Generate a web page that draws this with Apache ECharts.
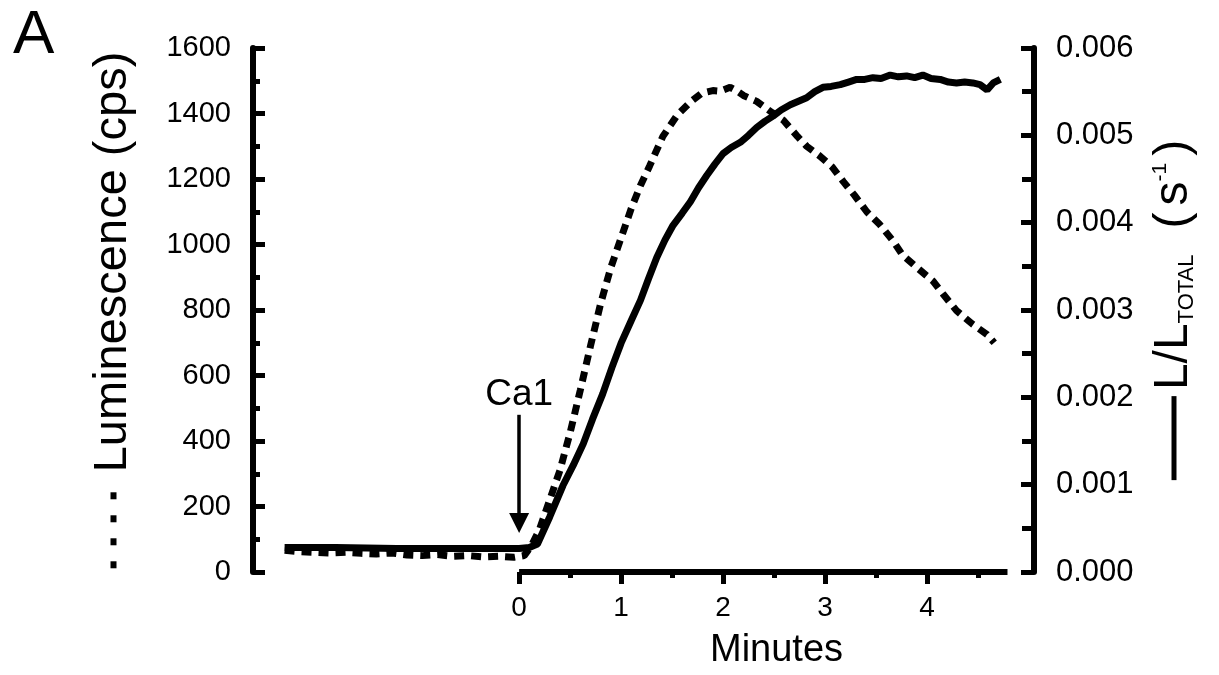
<!DOCTYPE html>
<html>
<head>
<meta charset="utf-8">
<title>Luminescence</title>
<script src="https://cdn.jsdelivr.net/npm/echarts@6/dist/echarts.min.js"></script>
<style>
  html, body { margin: 0; padding: 0; background: #fff; }
  #main { width: 1219px; height: 675px; }
</style>
</head>
<body>
<div id="main"></div>
<script>
  // dotted trace, left axis (cps)
  const lumMinutes = [-2.30, -2.15, -2.00, -1.85, -1.70, -1.55, -1.40, -1.25, -1.10, -0.95, -0.80, -0.65, -0.50, -0.35, -0.20, -0.05,
    0.05, 0.12, 0.20, 0.30, 0.40, 0.50, 0.60, 0.70, 0.80, 0.90, 1.00, 1.10, 1.19, 1.28, 1.41, 1.55, 1.68, 1.79, 1.90, 1.97,
    2.07, 2.13, 2.20, 2.33, 2.48, 2.59, 2.73, 2.82, 2.95, 3.07, 3.18, 3.29, 3.41, 3.54, 3.67, 3.76, 3.90, 4.06, 4.16, 4.29,
    4.45, 4.59, 4.66];
  const lumCounts = [66, 62, 60, 58, 60, 57, 55, 58, 52, 50, 53, 48, 50, 46, 48, 45,
    50, 80, 130, 220, 310, 425, 555, 690, 820, 930, 1020, 1110, 1180, 1240, 1330, 1395, 1435, 1462, 1470, 1468,
    1480, 1470, 1455, 1437, 1403, 1380, 1330, 1300, 1270, 1237, 1192, 1150, 1100, 1060, 1010, 968, 930, 888, 848, 798,
    756, 725, 700];

  // solid trace, right axis (L/Ltotal, s-1)
  const ratioMinutes = [-2.30, -1.80, -1.20, -0.60, 0.00, 0.10, 0.18, 0.30, 0.43, 0.53, 0.63, 0.72, 0.82, 0.91, 1.00,
    1.10, 1.19, 1.27, 1.35, 1.43, 1.51, 1.60, 1.68, 1.76, 1.84, 1.92, 2.00, 2.08, 2.17, 2.25, 2.33, 2.41, 2.49, 2.57,
    2.66, 2.74, 2.82, 2.90, 2.98, 3.06, 3.15, 3.23, 3.31, 3.39, 3.47, 3.55, 3.64, 3.72, 3.80, 3.88, 3.96, 4.04, 4.13,
    4.21, 4.29, 4.37, 4.45, 4.52, 4.59, 4.65, 4.72];
  const ratioValues = [0.00028, 0.00028, 0.00027, 0.00027, 0.00027, 0.00028, 0.00032, 0.00063, 0.00099, 0.00122, 0.00147,
    0.00175, 0.00204, 0.00234, 0.00262, 0.00288, 0.00311, 0.00336, 0.00360, 0.00380, 0.00397, 0.00411, 0.00424, 0.00440,
    0.00454, 0.00467, 0.00479, 0.00486, 0.00492, 0.00500, 0.00509, 0.00516, 0.00522, 0.00529, 0.00535, 0.00539, 0.00543,
    0.00550, 0.00555, 0.00556, 0.00558, 0.00561, 0.00564, 0.00564, 0.00566, 0.00565, 0.00569, 0.00567, 0.00568, 0.00566,
    0.00569, 0.00565, 0.00564, 0.00561, 0.00560, 0.00561, 0.00560, 0.00558, 0.00552, 0.00560, 0.00564];

  const minuteLabels = [0, 1, 2, 3, 4];
  const halfMinuteTicks = [0.5, 1.5, 2.5, 3.5, 4.5];
  const minutesRange = [-2.61, 5.05];
  const minutesAxisSpan = [0, 4.79];
  const ca1Arrow = { minute: 0, from: 480, to: 150 };

  const font = 'Liberation Sans, Arial, sans-serif';

  function pairs(xs, ys) {
    return xs.map(function (x, i) { return [x, ys[i]]; });
  }

  let myChart = echarts.init(document.getElementById('main'));

  myChart.setOption({
    animation: false,
    backgroundColor: '#fff',
    title: {
      text: 'A',
      left: 8,
      top: 0,
      textStyle: { fontSize: 62, fontWeight: 'normal', color: '#000', fontFamily: font }
    },
    grid: { left: 253, right: 185, top: 48, bottom: 98 },
    xAxis: [{
      type: 'value',
      min: minutesRange[0],
      max: minutesRange[1],
      axisLine: { show: false, onZero: false },
      splitLine: { show: false },
      axisTick: { show: true, customValues: minuteLabels, length: 12, lineStyle: { width: 5, color: '#000' } },
      axisLabel: { customValues: minuteLabels, fontSize: 28, color: '#000', fontFamily: font, margin: 22 },
      name: 'Minutes',
      nameLocation: 'middle',
      nameGap: 60,
      nameTextStyle: { fontSize: 38, color: '#000', fontFamily: font, padding: [0, 0, 0, 266] }
    }, {
      type: 'value',
      min: minutesRange[0],
      max: minutesRange[1],
      position: 'bottom',
      axisLine: { show: false, onZero: false },
      splitLine: { show: false },
      axisTick: { show: true, customValues: halfMinuteTicks, length: 6, lineStyle: { width: 5, color: '#000' } },
      axisLabel: { show: false }
    }],
    yAxis: [{
      type: 'value',
      min: 0,
      max: 1600,
      interval: 200,
      position: 'left',
      axisLine: { show: true, onZero: false, lineStyle: { width: 6, color: '#000' } },
      axisTick: { show: true, inside: true, length: 12, lineStyle: { width: 5, color: '#000' } },
      minorTick: { show: true, splitNumber: 2, length: 7, lineStyle: { width: 5, color: '#000' } },
      splitLine: { show: false },
      axisLabel: {
        fontSize: 29, color: '#000', fontFamily: font, margin: 22,
        formatter: function (v) { return String(v); }
      },
      name: '{d| }{g| }{d| }{g| }{d| }{g| }{d| }{gap| }{t|Luminescence (cps)}',
      nameLocation: 'middle',
      nameRotate: 90,
      nameGap: 116,
      nameTextStyle: {
        rich: {
          d: { width: 7, height: 6, backgroundColor: '#000' },
          g: { width: 16 },
          gap: { width: 20 },
          t: { fontSize: 47, color: '#000', fontFamily: font }
        }
      }
    }, {
      type: 'value',
      min: 0,
      max: 0.006,
      interval: 0.001,
      position: 'right',
      axisLine: { show: true, onZero: false, lineStyle: { width: 6, color: '#000' } },
      axisTick: { show: true, inside: true, length: 13, lineStyle: { width: 5, color: '#000' } },
      minorTick: { show: true, splitNumber: 2, length: 12, lineStyle: { width: 5, color: '#000' } },
      splitLine: { show: false },
      axisLabel: {
        fontSize: 31, color: '#000', fontFamily: font, margin: 22,
        formatter: function (v) { return v.toFixed(3); }
      },
      name: '{bar| }{g1| }{L|L/L}{sub|TOTAL}{g2| }{L|(}{s1| }{L|s}{sup|-1}{s1| }{L|)}',
      nameLocation: 'middle',
      nameRotate: 90,
      nameGap: 116,
      nameTextStyle: {
        rich: {
          bar: { width: 84, height: 5, backgroundColor: '#000', verticalAlign: 'middle' },
          g1: { width: 6 },
          g2: { width: 26 },
          s1: { width: 7 },
          L: { fontSize: 48, color: '#000', fontFamily: font },
          sub: { fontSize: 22, color: '#000', fontFamily: font, verticalAlign: 'bottom' },
          sup: { fontSize: 21, color: '#000', fontFamily: font, verticalAlign: 'top' }
        }
      }
    }],
    series: [{
      name: 'Luminescence',
      type: 'line',
      xAxisIndex: 0,
      yAxisIndex: 0,
      data: pairs(lumMinutes, lumCounts),
      showSymbol: false,
      clip: false,
      lineStyle: { color: '#000', width: 7, type: [10, 7], cap: 'butt' },
      markLine: {
        silent: true,
        symbol: ['none', 'triangle'],
        symbolSize: 20,
        lineStyle: { color: '#000', width: 3.5, type: 'solid' },
        label: { show: true, position: 'start', formatter: 'Ca1', fontSize: 37, color: '#000', fontFamily: font, distance: 2 },
        data: [[{ coord: [ca1Arrow.minute, ca1Arrow.from] }, { coord: [ca1Arrow.minute, ca1Arrow.to] }]]
      }
    }, {
      name: 'L/Ltotal',
      type: 'line',
      xAxisIndex: 0,
      yAxisIndex: 1,
      data: pairs(ratioMinutes, ratioValues),
      showSymbol: false,
      clip: false,
      lineStyle: { color: '#000', width: 7 }
    }, {
      // x axis line only spans the recorded minutes
      name: 'minutesAxis',
      type: 'line',
      xAxisIndex: 0,
      yAxisIndex: 0,
      data: minutesAxisSpan.map(function (m) { return [m, 0]; }),
      showSymbol: false,
      clip: false,
      silent: true,
      lineStyle: { color: '#000', width: 6 }
    }]
  });
</script>
</body>
</html>
